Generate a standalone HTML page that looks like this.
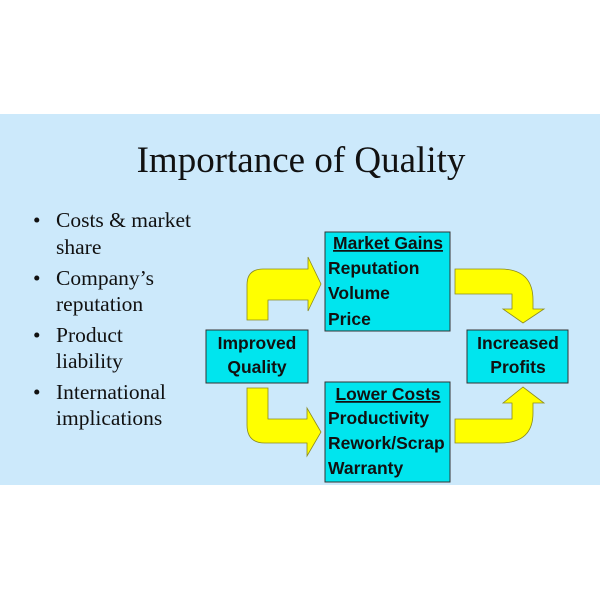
<!DOCTYPE html>
<html><head><style>
html,body{margin:0;padding:0;background:#fff;width:600px;height:600px;overflow:hidden}
</style></head><body>
<svg width="600" height="600" xmlns="http://www.w3.org/2000/svg">
<rect x="0" y="114" width="600" height="371" fill="#cce9fb"/>
<text x="301" y="172" font-family="Liberation Serif, serif" font-size="37" text-anchor="middle" fill="#111">Importance of Quality</text>
<g font-family="Liberation Serif, serif" font-size="21.5" fill="#111">
<text x="33" y="227">•</text><text x="56" y="227">Costs &amp; market</text>
<text x="56" y="254">share</text>
<text x="33" y="285">•</text><text x="56" y="285">Company’s</text>
<text x="56" y="311">reputation</text>
<text x="33" y="342">•</text><text x="56" y="342">Product</text>
<text x="56" y="368">liability</text>
<text x="33" y="399">•</text><text x="56" y="399">International</text>
<text x="56" y="425">implications</text>
</g>
<g fill="#ffff00" stroke="#8a8a20" stroke-width="0.8">
<path d="M247 320 L247 285 Q247 269 263 269 L308 269 L308 257 L321 284 L308 311 L308 300 L268 300 L268 320 Z"/>
<path d="M455 269 L500 269 Q533 269 533 300 L533 309 L544 309 L523 323 L503 309 L512 309 L512 294 L455 294 Z"/>
<path d="M247 388 L247 425 Q247 443 265 443 L307 443 L307 456 L321 432 L307 408 L307 419 L268 419 L268 388 Z"/>
<path d="M455 443 L500 443 Q533 443 533 413 L533 403 L544 403 L523 387 L503 403 L512 403 L512 419 L455 419 Z"/>
</g>
<g fill="#00e5ee" stroke="#333" stroke-width="1">
<rect x="325" y="232" width="125" height="99"/>
<rect x="206" y="330" width="102" height="53"/>
<rect x="325" y="382" width="125" height="100"/>
<rect x="467" y="330" width="101" height="53"/>
</g>
<g font-family="Liberation Sans, sans-serif" font-size="17.5" font-weight="bold" fill="#111">
<text x="388" y="249" text-anchor="middle" text-decoration="underline">Market Gains</text>
<text x="328" y="274">Reputation</text>
<text x="328" y="299">Volume</text>
<text x="328" y="325">Price</text>
<text x="257" y="349" text-anchor="middle">Improved</text>
<text x="257" y="373" text-anchor="middle">Quality</text>
<text x="388" y="400" text-anchor="middle" text-decoration="underline">Lower Costs</text>
<text x="328" y="424">Productivity</text>
<text x="328" y="449">Rework/Scrap</text>
<text x="328" y="474">Warranty</text>
<text x="518" y="349" text-anchor="middle">Increased</text>
<text x="518" y="373" text-anchor="middle">Profits</text>
</g>
</svg>
</body></html>
